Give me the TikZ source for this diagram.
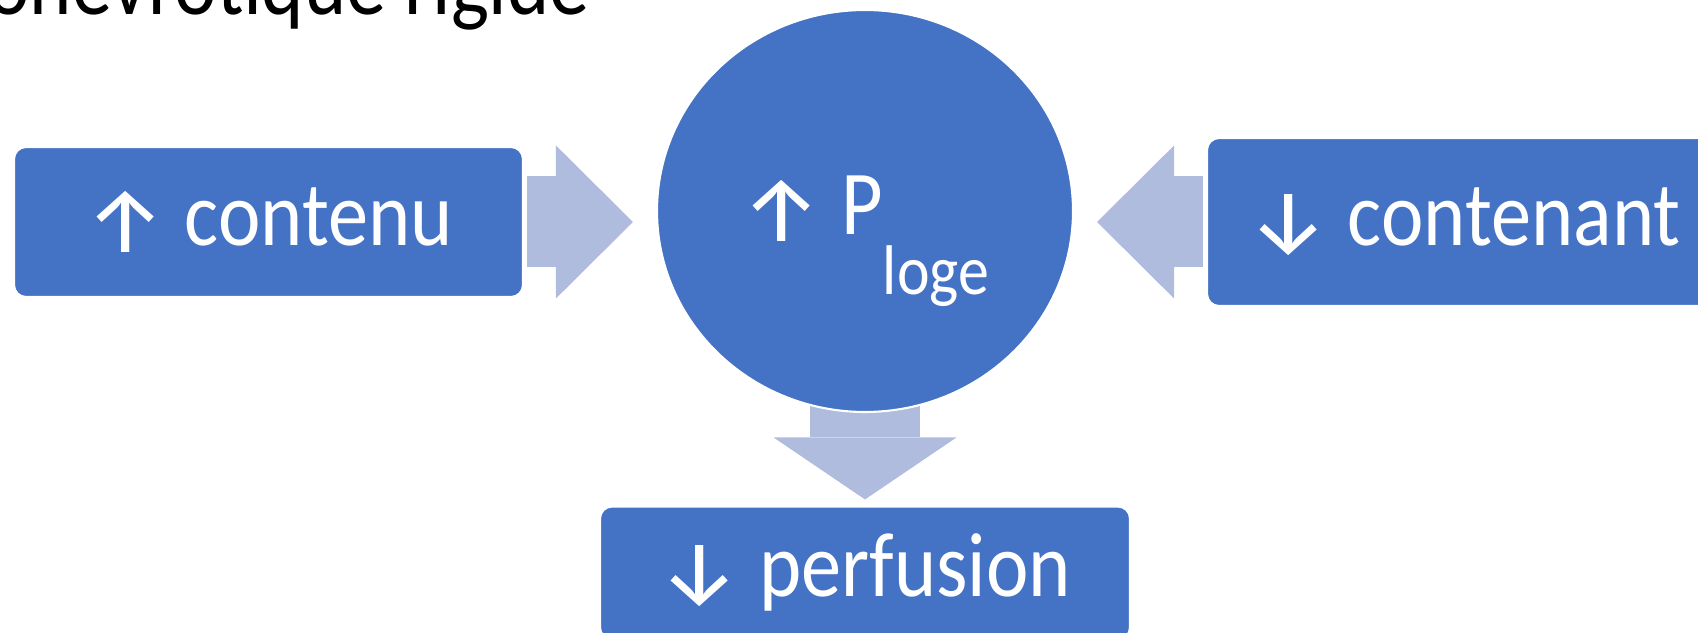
\documentclass[tikz,border=0pt]{standalone}
\usepackage{fontspec}
\setmainfont{Carlito}[FakeStretch=0.88]
\newfontfamily\fleche{Fira Sans}
\usetikzlibrary{arrows.meta,shapes.geometric,backgrounds}

\definecolor{bleu}{RGB}{68,114,196}
\definecolor{bleuclair}{RGB}{176,188,222}

% fleches du texte
\newcommand\haut{\raisebox{-0.07cm}{\fleche ↑}}
\newcommand\bas{\raisebox{-0.07cm}{\fleche ↓}}

\begin{document}
\begin{tikzpicture}[
    bloc/.style={
        draw=white,
        fill=bleu,
        line width=0.6pt,
        rounded corners=0.12cm,
        minimum width=5.09cm,
        minimum height=1.5cm,
        text=white,
        text height=0.6cm,
        text depth=0.12cm,
        font=\fontsize{26}{30}\selectfont,
        inner sep=0pt,
    },
    bulle/.style={
        ellipse,
        draw=white,
        fill=bleu,
        line width=0.6pt,
        minimum width=4.16cm,
        minimum height=4.02cm,
        text=white,
        text height=0.6cm,
        text depth=0.12cm,
        font=\fontsize{26}{30}\selectfont,
        inner sep=0pt,
    },
    fleche/.style={
        draw=bleuclair,
        line width=0.91cm,
        -{Triangle[width=1.53cm,length=0.77cm,line width=0pt]},
    },
]
\useasboundingbox (0,0) rectangle (16.98,-6.33);

\node[anchor=base west,font=\fontsize{26}{30}\selectfont] (titre) at (-0.25,-0.15) {onévrotique rigide};

\node[bloc] (contenu) at (2.685,-2.22) {\haut{} contenu};
\node[bulle] (loge) at (8.65,-2.11) {\haut{} P\raisebox{-0.6cm}{\fontsize{20}{20}\selectfont loge}};
\node[bloc,minimum width=5.14cm,minimum height=1.68cm] (contenant) at (14.64,-2.22) {\bas{} contenant};
\node[bloc,minimum width=5.30cm,minimum height=1.33cm] (perfusion) at (8.65,-5.73) {\bas{} perfusion};

\begin{scope}[on background layer]
\draw[fleche,shorten <=0.03cm,shorten >=0.23cm] (contenu.east) -- (contenu.east -| loge.west);
\draw[fleche,shorten <=0.03cm,shorten >=0.23cm] (contenant.west) -- (contenant.west -| loge.east);
\draw[fleche,line width=1.10cm,-{Triangle[width=1.83cm,length=0.62cm,line width=0pt]},
    shorten <=-0.2cm,shorten >=0.06cm] (loge.south) -- (perfusion.north);
\end{scope}
\end{tikzpicture}
\end{document}
